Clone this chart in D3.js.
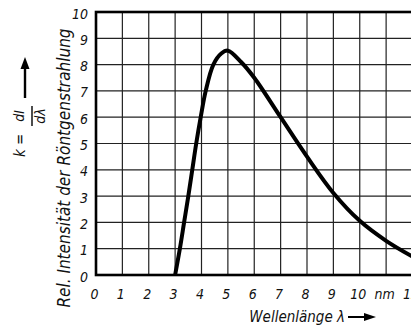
<!DOCTYPE html>
<html>
<head>
<meta charset="utf-8">
<script src="https://cdn.jsdelivr.net/npm/d3@7"></script>
<style>
  html, body { margin: 0; padding: 0; background: #fff; }
  svg { display: block; }
  text { font-family: "Liberation Sans Narrow", "DejaVu Sans Condensed", sans-serif; font-style: italic; fill: #111; }
</style>
</head>
<body>
<svg id="chart" width="411" height="327"></svg>
<script>
// Spectrum of the X-ray continuum: relative intensity vs. wavelength (nm)
const wavelength = [3, 3.18, 3.34, 3.5, 3.65, 3.8, 3.97, 4.16, 4.45, 4.75, 5.0, 5.5, 6, 7, 8, 9, 10, 11, 12];
const intensity  = [0, 1, 2, 3, 4, 5, 6, 7, 8, 8.42, 8.53, 8.1, 7.5, 6.0, 4.5, 3.12, 2.06, 1.3, 0.7];

const xTicks = [0, 1, 2, 3, 4, 5, 6, 7, 8, 9, 10, 11, 12];
const xTickLabels = ["0", "1", "2", "3", "4", "5", "6", "7", "8", "9", "10", "nm", "12"];
const yTicks = [0, 1, 2, 3, 4, 5, 6, 7, 8, 9, 10];

const svg = d3.select("#chart");

const x = d3.scaleLinear().domain([0, 12]).range([96, 412.5]);
const y = d3.scaleLinear().domain([0, 10]).range([275, 12]);

// grid
const grid = svg.append("g").attr("stroke", "#222").attr("stroke-width", 1.2);
grid.selectAll("line.v").data(xTicks).join("line")
  .attr("x1", d => x(d)).attr("x2", d => x(d))
  .attr("y1", y(0)).attr("y2", y(10));
grid.selectAll("line.h").data(yTicks).join("line")
  .attr("x1", x(0)).attr("x2", x(12))
  .attr("y1", d => y(d)).attr("y2", d => y(d));

// frame
svg.append("rect")
  .attr("x", x(0)).attr("y", y(10))
  .attr("width", x(12) - x(0)).attr("height", y(0) - y(10))
  .attr("fill", "none").attr("stroke", "#000").attr("stroke-width", 2.6);

// spectrum curve
const pts = wavelength.map((w, i) => [w, intensity[i]]);
const line = d3.line().x(d => x(d[0])).y(d => y(d[1])).curve(d3.curveCatmullRom.alpha(0.5));
svg.append("path")
  .attr("d", line(pts))
  .attr("fill", "none").attr("stroke", "#000")
  .attr("stroke-width", 4).attr("stroke-linejoin", "round").attr("stroke-linecap", "butt");

// x tick labels
svg.append("g").selectAll("text").data(xTicks).join("text")
  .attr("x", d => x(d) - 1.5).attr("y", 294)
  .attr("text-anchor", "middle").attr("dominant-baseline", "central")
  .attr("font-size", 14)
  .text((d, i) => xTickLabels[i]);

// y tick labels
svg.append("g").selectAll("text").data(yTicks).join("text")
  .attr("x", 88).attr("y", d => y(d) + 1.5)
  .attr("text-anchor", "end").attr("dominant-baseline", "central")
  .attr("font-size", 14)
  .text(d => d);

// x axis title with arrow
svg.append("text")
  .attr("x", 345).attr("y", 322)
  .attr("text-anchor", "end").attr("font-size", 15)
  .text("Wellenlänge λ");
svg.append("line")
  .attr("x1", 348).attr("x2", 366).attr("y1", 317).attr("y2", 317)
  .attr("stroke", "#000").attr("stroke-width", 2);
svg.append("path")
  .attr("d", "M364,313 L376,317 L364,321 Z").attr("fill", "#000");

// y axis title
svg.append("text")
  .attr("transform", "translate(70,168) rotate(-90)")
  .attr("text-anchor", "middle").attr("font-size", 17)
  .text("Rel. Intensität der Röntgenstrahlung");

// k = dI/dλ with upward arrow
const kg = svg.append("g").attr("transform", "translate(25,157) rotate(-90)");
kg.append("text").attr("x", 0).attr("y", 0).attr("font-size", 15).text("k =");
kg.append("text").attr("x", 41).attr("y", -1).attr("text-anchor", "middle").attr("font-size", 14).text("dI");
kg.append("line").attr("x1", 31).attr("x2", 51).attr("y1", 7).attr("y2", 7)
  .attr("stroke", "#000").attr("stroke-width", 1.4);
kg.append("text").attr("x", 41).attr("y", 20).attr("text-anchor", "middle").attr("font-size", 14).text("dλ");
kg.append("line").attr("x1", 59).attr("x2", 92).attr("y1", 0).attr("y2", 0)
  .attr("stroke", "#000").attr("stroke-width", 2.4);
kg.append("path").attr("d", "M88,-4.5 L100,0 L88,4.5 Z").attr("fill", "#000");
</script>
</body>
</html>
